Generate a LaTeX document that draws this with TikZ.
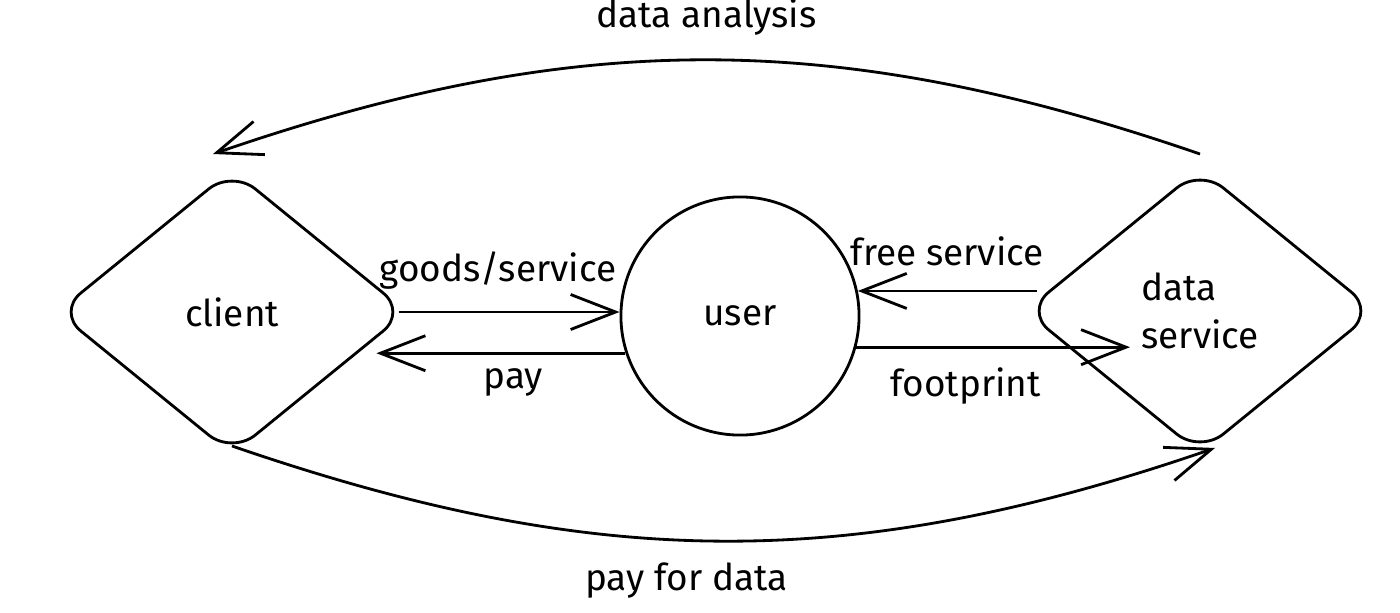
\documentclass[tikz,border=0pt]{standalone}
\usepackage{fontspec}
\setmainfont{Fira Sans}
\usetikzlibrary{arrows.meta, shapes.geometric}

\begin{document}
\begin{tikzpicture}[
  x=0.01cm, y=-0.01cm,
  every node/.style={font=\fontsize{10.5}{13.5}\selectfont},
  % Styles
  party/.style={diamond, draw, rounded corners=3mm, minimum width=3.5cm, minimum height=2.85cm, inner sep=0pt, line width=0.8pt},
  person/.style={circle, draw, minimum size=2.38cm, line width=0.8pt},
  arr/.style={-{Straight Barb[length=4.5mm, width=3.5mm]}, line width=0.8pt},
  lbl/.style={inner sep=1pt},
]
  \useasboundingbox (0,0) rectangle (1400,612);

  % ── PARTIES ───────────────────────────────────────────────
  \node[party] (client) at (232,312) {client};
  \node[person] (user) at (740,316) {user};
  \node[party, align=left] (ds) at (1200,311) {data\\service};

  % Free ends of the short arrows
  \coordinate (goodsstart) at ([xshift=-1mm]client.east);
  \coordinate (payend) at ([xshift=-3.2mm]client.east);
  \coordinate (freestart) at ([xshift=1.3mm]ds.west);
  \coordinate (fpend) at ([xshift=-7mm]ds.center);

  % ── ARROWS ────────────────────────────────────────────────
  % Client and user
  \draw[arr] (goodsstart) -- node[lbl, above=1.8mm, pos=0.45] {goods/service} (goodsstart -| user.west);
  \draw[arr] (user.198) -- node[lbl, below=1mm, pos=0.45] {pay} (payend |- user.198);

  % User and data service
  \draw[arr] (freestart |- user.12) -- node[lbl, above=2mm] {free service} (user.12);
  \draw[arr] (user.-15) -- node[lbl, below=1.6mm, pos=0.4] {footprint} (fpend |- user.-15);

  % Outer loop
  \draw[arr] ([yshift=1.3mm]ds.north) to[out=161, in=19] node[lbl, above=2mm] {data analysis} ([shift={(-1.9mm,1.4mm)}]client.north);
  \draw[arr] ([yshift=1mm]client.south) to[out=-19, in=-161] node[lbl, below=1.8mm, pos=0.46] {pay for data} ([shift={(1.5mm,0.7mm)}]ds.south);

\end{tikzpicture}
\end{document}
